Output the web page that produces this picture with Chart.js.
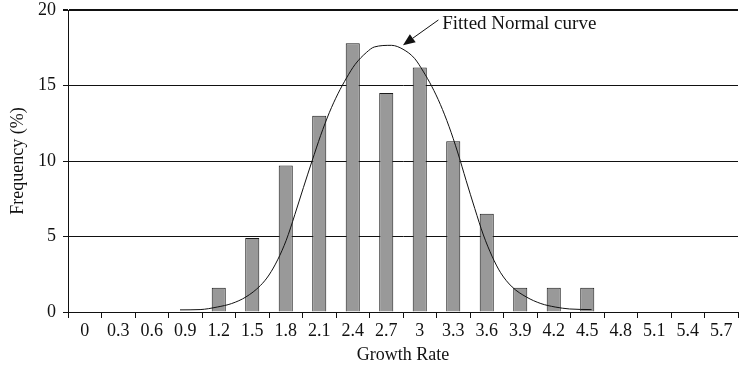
<!DOCTYPE html>
<html>
<head>
<meta charset="utf-8">
<script src="https://cdn.jsdelivr.net/npm/chart.js@4"></script>
<style>
  html, body { margin: 0; padding: 0; background: #fff; }
  #wrap { width: 739px; height: 366px; }
</style>
</head>
<body>
<div id="wrap"><canvas id="c" width="739" height="366"></canvas></div>
<script>
// Growth-rate classes (category labels on the x axis)
const categories = ['0','0.3','0.6','0.9','1.2','1.5','1.8','2.1','2.4','2.7','3','3.3','3.6','3.9','4.2','4.5','4.8','5.1','5.4','5.7'];
// Observed frequency (%) per class
const frequency = [0, 0, 0, 0, 1.6, 4.9, 9.7, 13.0, 17.8, 14.5, 16.2, 11.3, 6.5, 1.6, 1.6, 1.6, 0, 0, 0, 0];
// Fitted normal curve, sampled along the growth-rate axis
const curveX = [0.52, 0.73, 0.91, 1.06, 1.21, 1.36, 1.45, 1.54, 1.63, 1.72, 1.81, 1.90, 1.99, 2.08, 2.17, 2.26, 2.35, 2.47, 2.55, 2.73, 2.85, 2.97, 3.06, 3.15, 3.24, 3.33, 3.42, 3.51, 3.60, 3.69, 3.78, 3.87, 3.99, 4.14, 4.29, 4.44, 4.59, 4.82];
const curveY = [0.14, 0.16, 0.33, 0.56, 1.0, 1.75, 2.45, 3.45, 4.75, 6.45, 8.25, 10.0, 11.7, 13.2, 14.45, 15.5, 16.4, 17.2, 17.55, 17.66, 17.4, 16.8, 15.95, 14.95, 13.75, 12.3, 10.6, 8.7, 6.85, 5.1, 3.7, 2.6, 1.66, 0.99, 0.56, 0.33, 0.2, 0.16];
// Y axis ticks
const yTicks = [0, 5, 10, 15, 20];
// Callout: text, text anchor, arrow tail and arrow tip (growth rate, frequency)
const calloutText = 'Fitted Normal curve';
const calloutAnchor = [3.26, 19.07];
const arrowTail = [3.22, 19.34];
const arrowTip = [2.85, 17.67];

const FONT = '"Liberation Serif", "DejaVu Serif", serif';
const INK = '#111';

const curvePoints = curveX.map((x, i) => ({ x: x, y: curveY[i] }));

const callout = {
  id: 'callout',
  afterDatasetsDraw(chart) {
    const xs = chart.scales.xc, ys = chart.scales.y;
    const ctx = chart.ctx;
    const tx = xs.getPixelForValue(arrowTail[0]), ty = ys.getPixelForValue(arrowTail[1]);
    const hx = xs.getPixelForValue(arrowTip[0]), hy = ys.getPixelForValue(arrowTip[1]);
    const ang = Math.atan2(hy - ty, hx - tx);
    const L = 12, W = 5;
    const bx = hx - L * Math.cos(ang), by = hy - L * Math.sin(ang);
    ctx.save();
    ctx.strokeStyle = INK;
    ctx.fillStyle = INK;
    ctx.lineWidth = 1;
    ctx.beginPath();
    ctx.moveTo(tx, ty);
    ctx.lineTo(bx, by);
    ctx.stroke();
    ctx.beginPath();
    ctx.moveTo(hx, hy);
    ctx.lineTo(bx + W * Math.sin(ang), by - W * Math.cos(ang));
    ctx.lineTo(bx - W * Math.sin(ang), by + W * Math.cos(ang));
    ctx.closePath();
    ctx.fill();
    ctx.font = '19px ' + FONT;
    ctx.textAlign = 'left';
    ctx.textBaseline = 'middle';
    ctx.fillText(calloutText, xs.getPixelForValue(calloutAnchor[0]), ys.getPixelForValue(calloutAnchor[1]));
    ctx.restore();
  }
};

new Chart(document.getElementById('c'), {
  type: 'bar',
  data: {
    labels: categories,
    datasets: [
      {
        type: 'bar',
        label: 'Frequency',
        data: frequency,
        backgroundColor: '#999999',
        borderColor: '#1a1a1a',
        borderWidth: 1,
        grouped: false,
        barPercentage: 0.42,
        categoryPercentage: 1.0,
        xAxisID: 'x',
        order: 2
      },
      {
        type: 'line',
        label: 'Fitted Normal curve',
        data: curvePoints,
        xAxisID: 'xc',
        borderColor: '#111',
        borderWidth: 1,
        pointRadius: 0,
        cubicInterpolationMode: 'monotone',
        fill: false,
        order: 1
      }
    ]
  },
  options: {
    responsive: false,
    animation: false,
    layout: { padding: { left: 0, right: 1, top: 10, bottom: 0 } },
    plugins: { legend: { display: false }, tooltip: { enabled: false } },
    scales: {
      x: {
        type: 'category',
        offset: true,
        grid: {
          display: true,
          offset: true,
          drawOnChartArea: false,
          drawTicks: true,
          tickLength: 6,
          color: INK,
          lineWidth: 1
        },
        border: { display: true, color: INK, width: 1 },
        ticks: { color: INK, font: { family: FONT, size: 18 }, padding: 2, maxRotation: 0, autoSkip: false },
        title: { display: true, text: 'Growth Rate', color: INK, font: { family: FONT, size: 18 }, padding: { top: 0, bottom: 0 } },
        afterFit(scale) { scale.height = 54; }
      },
      xc: {
        type: 'linear',
        display: false,
        min: -0.15,
        max: 5.85
      },
      y: {
        min: 0,
        max: 20,
        afterBuildTicks(scale) { scale.ticks = yTicks.map(v => ({ value: v })); },
        grid: {
          color: INK,
          lineWidth: ctx => (ctx.tick && ctx.tick.value === 20 ? 2 : 1),
          drawTicks: true,
          tickLength: 5
        },
        border: { display: true, color: INK, width: 1 },
        ticks: { color: INK, font: { family: FONT, size: 18 }, padding: 7 },
        title: { display: true, text: 'Frequency (%)', color: INK, font: { family: FONT, size: 18 }, padding: { top: 7, bottom: 0 } },
        afterFit(scale) { scale.width = 68; scale.paddingTop = 0; scale.paddingBottom = 0; }
      }
    }
  },
  plugins: [callout]
});
</script>
</body>
</html>
